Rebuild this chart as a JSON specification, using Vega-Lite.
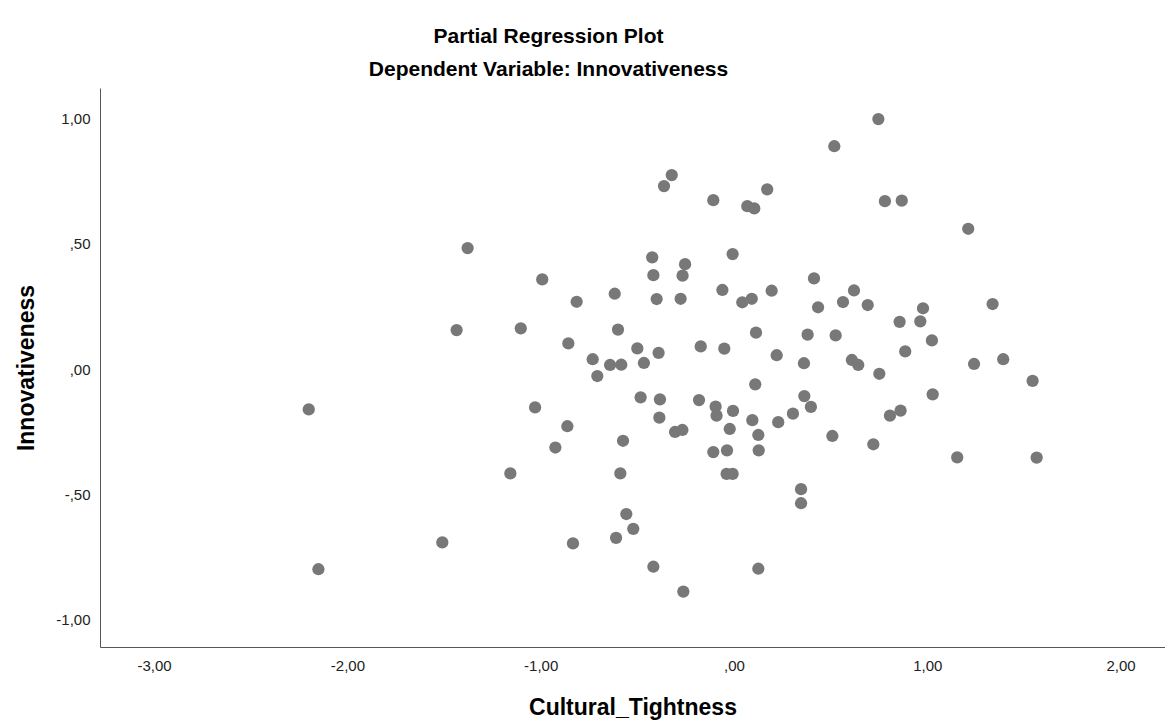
{
  "$schema": "https://vega.github.io/schema/vega-lite/v6.json",
  "autosize": "none",
  "width": 1065,
  "height": 559,
  "padding": {"left": 100, "top": 88, "right": 0, "bottom": 79},
  "background": "white",
  "title": {
    "text": "Partial Regression Plot",
    "subtitle": "Dependent Variable: Innovativeness",
    "anchor": "middle",
    "dx": -84,
    "font": "Liberation Sans",
    "fontSize": 21,
    "fontWeight": "bold",
    "color": "#000000",
    "subtitleFont": "Liberation Sans",
    "subtitleFontSize": 21,
    "subtitleFontWeight": "bold",
    "subtitleColor": "#000000",
    "subtitlePadding": 12,
    "offset": 8
  },
  "config": {
    "view": {"stroke": null},
    "axis": {
      "grid": false,
      "ticks": false,
      "domainColor": "#555555",
      "domainWidth": 1,
      "labelFont": "Liberation Sans",
      "labelFontSize": 15,
      "labelColor": "#222222",
      "titleFont": "Liberation Sans",
      "titleFontSize": 23,
      "titleFontWeight": "bold",
      "titleColor": "#000000"
    }
  },
  "data": {
    "values": [
      {"x": -0.322, "y": 0.773}, {"x": -0.362, "y": 0.729}, {"x": -0.107, "y": 0.673},
      {"x": -1.378, "y": 0.482}, {"x": -0.423, "y": 0.445}, {"x": -0.253, "y": 0.418},
      {"x": -0.417, "y": 0.374}, {"x": -0.266, "y": 0.372}, {"x": -0.992, "y": 0.357},
      {"x": -0.060, "y": 0.315}, {"x": -0.617, "y": 0.300}, {"x": -0.400, "y": 0.279},
      {"x": -0.276, "y": 0.280}, {"x": -0.814, "y": 0.268}, {"x": -1.435, "y": 0.155},
      {"x": -1.103, "y": 0.162}, {"x": -0.600, "y": 0.157}, {"x": -0.857, "y": 0.102},
      {"x": -0.172, "y": 0.090}, {"x": -0.050, "y": 0.081}, {"x": -0.500, "y": 0.082},
      {"x": -0.390, "y": 0.064}, {"x": -0.731, "y": 0.039}, {"x": -0.641, "y": 0.016},
      {"x": -0.583, "y": 0.017}, {"x": -0.466, "y": 0.024}, {"x": -0.707, "y": -0.028},
      {"x": -2.200, "y": -0.161}, {"x": -1.029, "y": -0.153}, {"x": -0.483, "y": -0.113},
      {"x": -0.383, "y": -0.121}, {"x": -0.181, "y": -0.124}, {"x": -0.095, "y": -0.150},
      {"x": -0.090, "y": -0.186}, {"x": -0.386, "y": -0.194}, {"x": -0.862, "y": -0.228},
      {"x": -0.305, "y": -0.251}, {"x": -0.267, "y": -0.243}, {"x": -0.574, "y": -0.286},
      {"x": -0.924, "y": -0.313}, {"x": -0.107, "y": -0.331}, {"x": -1.157, "y": -0.416},
      {"x": -0.588, "y": -0.416}, {"x": -0.557, "y": -0.578}, {"x": -0.521, "y": -0.637},
      {"x": -0.610, "y": -0.673}, {"x": -1.509, "y": -0.691}, {"x": -0.833, "y": -0.695},
      {"x": -2.150, "y": -0.798}, {"x": -0.417, "y": -0.788}, {"x": -0.262, "y": -0.887},
      {"x": 0.747, "y": 0.996}, {"x": 0.519, "y": 0.888}, {"x": 0.172, "y": 0.716},
      {"x": 0.069, "y": 0.649}, {"x": 0.105, "y": 0.640}, {"x": 0.781, "y": 0.669},
      {"x": 0.868, "y": 0.671}, {"x": 1.212, "y": 0.559}, {"x": -0.007, "y": 0.458},
      {"x": 0.414, "y": 0.361}, {"x": 0.195, "y": 0.312}, {"x": 0.092, "y": 0.280},
      {"x": 0.043, "y": 0.266}, {"x": 0.621, "y": 0.313}, {"x": 0.564, "y": 0.267},
      {"x": 0.435, "y": 0.246}, {"x": 0.692, "y": 0.255}, {"x": 0.978, "y": 0.242},
      {"x": 1.338, "y": 0.259}, {"x": 0.857, "y": 0.188}, {"x": 0.964, "y": 0.190},
      {"x": 0.114, "y": 0.145}, {"x": 0.381, "y": 0.137}, {"x": 0.526, "y": 0.134},
      {"x": 1.024, "y": 0.114}, {"x": 0.886, "y": 0.070}, {"x": 0.221, "y": 0.055},
      {"x": 0.362, "y": 0.023}, {"x": 0.610, "y": 0.036}, {"x": 0.643, "y": 0.016},
      {"x": 0.752, "y": -0.019}, {"x": 1.242, "y": 0.020}, {"x": 1.393, "y": 0.039},
      {"x": 1.545, "y": -0.047}, {"x": 0.110, "y": -0.061}, {"x": -0.005, "y": -0.167},
      {"x": 0.095, "y": -0.204}, {"x": -0.022, "y": -0.239}, {"x": 0.126, "y": -0.263},
      {"x": 0.229, "y": -0.212}, {"x": 0.305, "y": -0.178}, {"x": 0.364, "y": -0.108},
      {"x": 0.398, "y": -0.151}, {"x": 0.807, "y": -0.186}, {"x": 0.862, "y": -0.166},
      {"x": 1.028, "y": -0.101}, {"x": 0.509, "y": -0.267}, {"x": 0.721, "y": -0.300},
      {"x": -0.036, "y": -0.324}, {"x": 0.128, "y": -0.324}, {"x": -0.038, "y": -0.418},
      {"x": -0.007, "y": -0.418}, {"x": 1.155, "y": -0.352}, {"x": 1.566, "y": -0.353},
      {"x": 0.347, "y": -0.479}, {"x": 0.347, "y": -0.535}, {"x": 0.126, "y": -0.796}
    ]
  },
  "mark": {"type": "circle", "size": 150, "color": "#787878", "opacity": 1},
  "encoding": {
    "x": {
      "field": "x",
      "type": "quantitative",
      "title": "Cultural_Tightness",
      "scale": {"domain": [-3.28, 2.23], "nice": false, "zero": false},
      "axis": {
        "values": [-3, -2, -1, 0, 1, 2],
        "labelExpr": "replace(replace(replace(format(datum.value, '.2f'), '\u2212', '-'), '0.', '.'), '.', ',')",
        "labelPadding": 11,
        "titlePadding": 23
      }
    },
    "y": {
      "field": "y",
      "type": "quantitative",
      "title": "Innovativeness",
      "scale": {"domain": [-1.108, 1.12], "nice": false, "zero": false},
      "axis": {
        "values": [-1, -0.5, 0, 0.5, 1],
        "labelExpr": "replace(replace(replace(format(datum.value, '.2f'), '\u2212', '-'), '0.', '.'), '.', ',')",
        "labelPadding": 10,
        "titlePadding": 17
      }
    }
  }
}
